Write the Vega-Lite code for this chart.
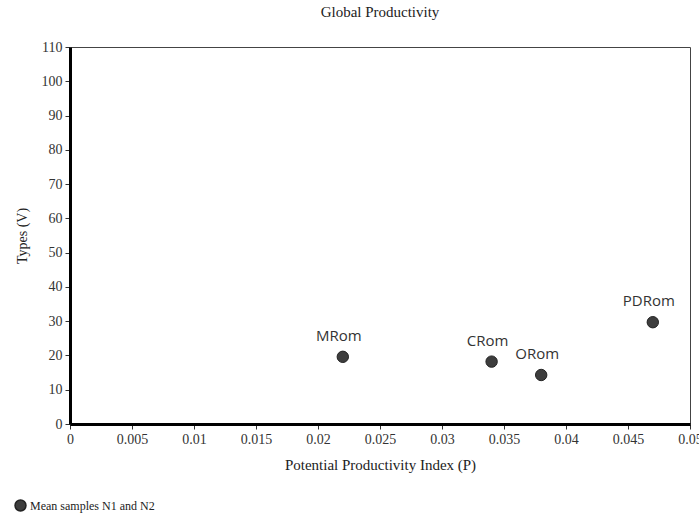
{
  "$schema": "https://vega.github.io/schema/vega-lite/v6.json",
  "width": 620,
  "height": 377,
  "autosize": {"type": "none"},
  "padding": {"left": 70, "top": 47, "right": 9, "bottom": 97},
  "background": "white",
  "title": {
    "text": "Global Productivity",
    "font": "Liberation Serif",
    "fontSize": 15,
    "fontWeight": "normal",
    "color": "#222",
    "offset": 20
  },
  "data": {
    "values": [
      {"name": "MRom", "P": 0.022, "V": 19.6, "series": "Mean samples N1 and N2"},
      {"name": "CRom", "P": 0.034, "V": 18.2, "series": "Mean samples N1 and N2"},
      {"name": "ORom", "P": 0.038, "V": 14.3, "series": "Mean samples N1 and N2"},
      {"name": "PDRom", "P": 0.047, "V": 29.7, "series": "Mean samples N1 and N2"}
    ]
  },
  "encoding": {
    "x": {
      "field": "P",
      "type": "quantitative",
      "scale": {"domain": [0, 0.05], "nice": false, "zero": true},
      "axis": {
        "title": "Potential Productivity Index (P)",
        "values": [0, 0.005, 0.01, 0.015, 0.02, 0.025, 0.03, 0.035, 0.04, 0.045, 0.05],
        "format": "~g",
        "grid": false,
        "domainColor": "#000",
        "domainWidth": 3,
        "tickColor": "#333",
        "tickSize": 5,
        "labelFont": "Liberation Serif",
        "labelFontSize": 14,
        "labelColor": "#333",
        "labelPadding": 3,
        "labelOverlap": false,
        "labelFlush": false,
        "labelBound": false,
        "titleFont": "Liberation Serif",
        "titleFontSize": 15,
        "titleFontWeight": "normal",
        "titleColor": "#222",
        "titlePadding": 11
      }
    },
    "y": {
      "field": "V",
      "type": "quantitative",
      "scale": {"domain": [0, 110], "nice": false},
      "axis": {
        "title": "Types (V)",
        "values": [0, 10, 20, 30, 40, 50, 60, 70, 80, 90, 100, 110],
        "grid": false,
        "domainColor": "#000",
        "domainWidth": 3,
        "tickColor": "#333",
        "tickSize": 5,
        "labelFont": "Liberation Serif",
        "labelFontSize": 14,
        "labelColor": "#333",
        "labelPadding": 3,
        "labelFlush": false,
        "titleFont": "Liberation Serif",
        "titleFontSize": 14,
        "titleFontWeight": "normal",
        "titleColor": "#222",
        "titlePadding": 12
      }
    }
  },
  "layer": [
    {
      "mark": {"type": "point", "filled": true, "size": 130, "stroke": "#222", "strokeWidth": 1, "opacity": 1},
      "encoding": {
        "color": {
          "field": "series",
          "type": "nominal",
          "scale": {"range": ["#3d3d3d"]},
          "legend": {
            "title": null,
            "orient": "none",
            "legendX": -56,
            "legendY": 452,
            "labelFont": "Liberation Serif",
            "labelFontSize": 12,
            "labelColor": "#222",
            "symbolSize": 120,
            "symbolType": "circle",
            "symbolStrokeColor": "#222",
            "symbolOpacity": 1,
            "labelOffset": 3
          }
        }
      }
    },
    {
      "mark": {"type": "text", "dy": -21, "dx": -4, "font": "Open Sans", "fontSize": 15, "color": "#333"},
      "encoding": {"text": {"field": "name"}}
    }
  ],
  "config": {
    "view": {"stroke": "#444", "strokeWidth": 1}
  }
}
